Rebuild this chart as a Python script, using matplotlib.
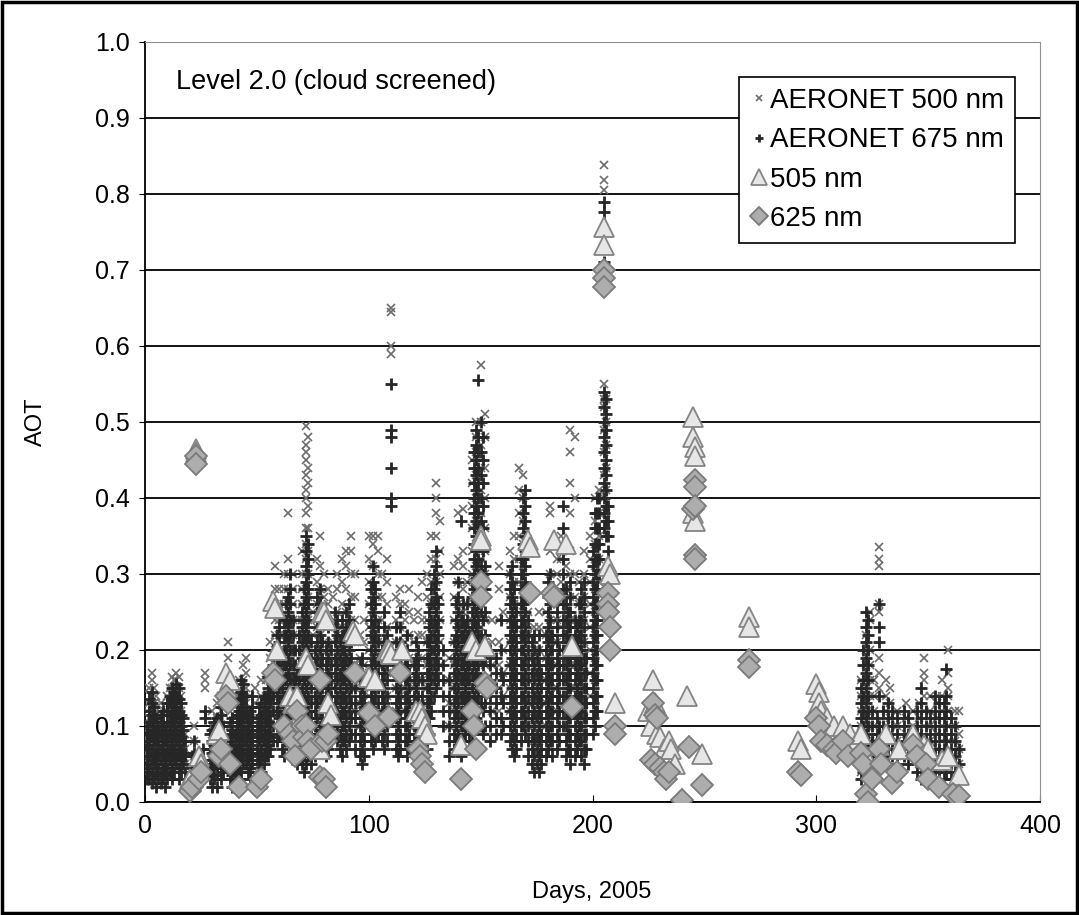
import matplotlib
matplotlib.use("Agg")
import matplotlib.pyplot as plt
from matplotlib.patches import Rectangle

plt.rcParams['font.family'] = ['Liberation Sans', 'DejaVu Sans']

# AERONET 500 nm, day -> AOT x 100
aer500 = {
    1: [4, 6, 8, 10, 12], 2: [5, 7, 9, 11, 13, 15], 3: [6, 8, 10, 12, 14, 16, 17],
    4: [5, 7, 9, 11, 13, 15], 5: [4, 6, 8, 10, 12, 14], 7: [5, 7, 9, 11, 13],
    9: [4, 6, 8, 10, 12], 10: [6, 8, 10, 12, 14], 11: [5, 7, 9, 11, 13, 15],
    12: [7, 9, 11, 13, 15, 16.5], 13: [6, 8, 10, 12, 14, 16], 14: [8, 10, 12, 14, 16, 17],
    15: [7, 9, 11, 13, 15, 16.5], 16: [6, 8, 10, 12, 14], 18: [5, 7, 9], 22: [4, 6, 8, 10],
    27: [15, 16, 17], 30: [4, 6, 8, 10, 12], 32: [5, 7, 9, 11, 13], 34: [6, 8, 10, 12, 14],
    37: [19, 21], 38: [6, 8, 10, 12, 14], 40: [5, 7, 9, 11], 42: [6, 8, 10, 12, 14, 16],
    44: [8, 10, 12, 14, 16, 18], 45: [7, 9, 11, 13, 15, 17, 19], 47: [6, 8, 10, 12, 14],
    49: [7, 9, 11, 13, 15], 52: [6, 8, 10, 12, 14, 16], 54: [8, 10, 12, 14, 16],
    56: [9, 11, 13, 15, 17, 19, 21], 58: [12, 14, 16, 18, 20, 22, 24, 26, 28, 31],
    60: [12, 14, 16, 18, 20, 22, 24, 26, 28], 62: [14, 16, 18, 20, 22, 24, 26, 28, 30],
    64: [16, 18, 20, 22, 24, 26, 28, 30, 32, 38], 66: [12, 14, 16, 18, 20, 22, 24, 26, 28, 30],
    68: [10, 12, 14, 16, 18, 20, 22, 24], 70: [12, 14, 16, 18, 20, 22, 24, 26, 28, 30, 33],
    72: [20, 22, 24, 26, 28, 30, 32, 34, 36, 38, 40, 41, 43, 45, 46, 47, 49.5],
    73: [18, 21, 24, 27, 30, 33, 36, 39, 42, 44, 48], 75: [10, 13, 16, 19, 22, 25],
    77: [14, 17, 20, 23, 26, 29, 32], 78: [16, 19, 22, 25, 28, 31, 35],
    80: [12, 15, 18, 21, 24, 27, 30], 82: [14, 17, 20, 23, 26, 28], 84: [12, 15, 18, 21, 24, 27],
    86: [16, 19, 22, 25, 28, 30], 88: [14, 17, 20, 23, 26, 29, 32], 90: [16, 19, 22, 25, 28, 31, 33],
    92: [15, 18, 21, 24, 27, 30, 33, 35], 94: [12, 15, 18, 21, 24, 27, 30], 96: [10, 13, 16, 19, 22],
    98: [12, 15, 18, 21, 24], 100: [14, 17, 20, 23, 26, 29, 32, 35],
    102: [16, 19, 22, 25, 28, 31, 34, 35], 104: [15, 18, 21, 24, 27, 30, 33, 35],
    106: [12, 15, 18, 21, 24, 27, 30], 108: [14, 17, 20, 23, 26, 29, 32], 110: [59, 60, 64.5, 65],
    112: [12, 15, 18, 21, 24, 27], 114: [14, 17, 20, 23, 26, 28], 116: [12, 15, 18, 21, 24, 26],
    118: [10, 13, 16, 19, 22, 25, 28], 120: [12, 15, 18, 21, 24], 122: [13, 16, 19, 22, 25, 27],
    124: [10, 13, 16, 19, 22, 24, 29], 126: [12, 15, 18, 21, 24, 27, 30],
    128: [17, 20, 23, 26, 29, 32, 35], 130: [20, 23, 26, 29, 32, 35, 38, 40, 42],
    132: [18, 21, 24, 27, 30, 33, 37], 136: [10, 13, 16, 19], 138: [12, 15, 18, 21, 24, 27, 31],
    140: [14, 17, 20, 23, 26, 29, 32, 38], 142: [16, 19, 22, 25, 28, 31, 33, 38.5],
    144: [14, 17, 20, 23, 26, 29], 146: [18, 21, 24, 27, 30, 33, 36, 39, 42, 45],
    148: [22, 25, 28, 31, 34, 37, 40, 43, 46, 48, 50],
    150: [20, 23, 26, 29, 32, 35, 38, 41, 44, 47, 50, 57.5],
    152: [15, 18, 21, 24, 27, 30, 33, 36, 40, 44, 48, 51], 155: [12, 15, 18, 21, 24],
    158: [12, 15, 18, 21, 24, 28, 31], 160: [14, 17, 20, 25], 163: [12, 15, 18, 21, 24, 27, 30, 33],
    165: [14, 17, 20, 23, 26, 29, 32, 35], 167: [20, 23, 26, 29, 32, 35, 38, 41, 44],
    169: [22, 25, 28, 31, 34, 37, 40, 43], 171: [10, 13, 16, 19, 22, 25, 28],
    174: [8, 11, 14, 17, 20, 23], 176: [8, 11, 14, 17, 20, 23, 25], 179: [10, 13, 16, 19, 22, 25],
    181: [12, 15, 18, 21, 24, 27, 30, 33, 38, 39], 184: [12, 15, 18, 21, 24, 27, 30, 32],
    186: [14, 17, 20, 23, 26, 29, 32, 35], 188: [10, 13, 16, 19, 22, 25, 28, 31],
    190: [12, 15, 18, 21, 24, 27, 30, 33, 38, 42, 46, 49], 192: [12, 15, 18, 21, 24, 27, 30, 40, 48],
    194: [14, 17, 20, 23, 26, 29], 196: [12, 15, 18, 21, 24, 27, 30, 33],
    199: [14, 17, 20, 23, 26, 29, 32, 35], 201: [16, 19, 22, 25, 28, 31, 34, 37, 40],
    203: [20, 23, 26, 29, 32, 35, 38, 41], 205: [40, 43, 46, 49, 52, 53, 55, 80.5, 81.8, 83.8],
    206: [38, 41, 44, 47, 50, 53],
    320: [4, 6, 8, 10, 12, 14, 16], 322: [6, 8, 10, 12, 14, 16, 18, 20, 22],
    324: [8, 10, 12, 14, 16, 18, 20, 24, 25], 326: [6, 8, 10, 12, 14, 16],
    328: [15, 17, 19, 25, 26, 31, 32, 33.5], 331: [8, 10, 12, 14, 16], 333: [7, 9, 11, 13, 15],
    336: [6, 8, 10, 12], 340: [7, 9, 11, 13], 343: [6, 8, 10, 12], 346: [5, 7, 9, 11, 13],
    348: [8, 10, 12, 14, 16, 17, 19], 351: [6, 8, 10, 12, 14], 354: [7, 9, 11, 13, 14],
    356: [6, 8, 10, 12, 14, 16], 359: [8, 10, 12, 14, 15, 17, 20], 362: [6, 8, 10, 12],
    364: [5, 7, 9, 12],
}

# AERONET 675 nm, day -> AOT x 100
aer675 = {
    1: [3, 4, 5, 6, 7, 8, 9, 10], 2: [3, 4.5, 6, 7.5, 9, 10.5, 12, 13.5],
    3: [2.5, 4, 5.5, 7, 8.5, 10, 11.5, 13, 14.5], 4: [3, 5, 6.5, 8, 9.5, 11, 12.5],
    5: [2, 3.5, 5, 6.5, 8, 9.5, 11], 6: [3, 4.5, 6, 7.5, 9, 10], 7: [2.5, 4, 5.5, 7, 8.5, 10, 11.5],
    8: [3, 4.5, 6, 7.5, 9, 10.5, 12], 9: [2, 3.5, 5, 6.5, 8, 9.5],
    10: [3, 4.5, 6, 7.5, 9, 10.5, 12, 13], 11: [4, 5.5, 7, 8.5, 10, 11.5, 13, 14],
    12: [3, 4.5, 6, 7.5, 9, 10.5, 12, 13.5, 15], 13: [4, 5.5, 7, 8.5, 10, 11.5, 13, 14.5],
    14: [5, 6.5, 8, 9.5, 11, 12.5, 14, 15.5], 15: [3, 4.5, 6, 7.5, 9, 10.5, 12, 13.5, 15],
    16: [4, 5.5, 7, 8.5, 10, 11.5, 13], 17: [5, 6.5, 8, 9.5, 11], 18: [4, 6, 8],
    21: [3, 4.5, 6], 22: [3.5, 5, 6.5, 8], 26: [4, 5.5, 7], 27: [11, 12], 29: [3, 5, 7, 9],
    30: [2, 3.5, 5, 6.5, 8, 9.5], 31: [3, 4.5, 6, 7.5, 9, 10.5], 32: [2, 3.5, 5, 6.5, 8, 9.5, 11],
    34: [3, 4.5, 6, 7.5, 9, 10, 11.5, 12.5], 35: [4, 5.5, 7, 8.5, 10],
    38: [3, 4.5, 6, 7.5, 9, 10.5], 39: [2, 3.5, 5, 6.5, 8, 9.5, 11], 40: [3, 4.5, 6, 7.5, 9],
    41: [4, 5.5, 7, 8.5, 10, 11.5, 13], 42: [3, 4.5, 6, 7.5, 9, 10.5, 12, 13.5],
    43: [4, 5.5, 7, 8.5, 10, 11.5, 13, 14.5, 16], 44: [5, 6.5, 8, 9.5, 11, 12.5, 14, 15.5],
    45: [5, 6.5, 8, 9.5, 11, 12.5, 14], 46: [4, 5.5, 7, 8.5, 10, 11.5],
    47: [3, 4.5, 6, 7.5, 9, 10.5, 12], 48: [5, 6.5, 8, 9.5, 11, 12.5, 14],
    50: [4, 5.5, 7, 8.5, 10], 51: [5, 6.5, 8, 9.5, 11, 12.5], 52: [4, 5.5, 7, 8.5, 10, 11.5, 13],
    53: [5, 6.5, 8, 9.5, 11, 12.5, 14], 54: [6, 7.5, 9, 10.5, 12, 13.5],
    55: [6, 7.5, 9, 10.5, 12, 13.5, 15, 16.5], 56: [7, 8.5, 10, 11.5, 13, 14.5, 16],
    57: [8, 10, 12, 14, 16, 18, 20], 59: [8, 10, 12, 14, 16, 18, 20, 22],
    60: [9, 11, 13, 15, 17, 19, 21, 23], 61: [7, 9, 11, 13, 15, 17, 19],
    62: [6, 8, 10, 12, 14, 16, 18, 20, 22, 24], 63: [8, 10, 12, 14, 16, 18, 20, 22, 24, 26],
    64: [9, 11, 13, 15, 17, 19, 21, 23, 25, 27], 65: [10, 12, 14, 16, 18, 20, 22, 24, 26, 28, 30],
    66: [8, 10, 12, 14, 16, 18, 20, 22, 24], 67: [6, 8, 10, 12, 14, 16, 18, 20],
    68: [5, 7, 9, 11, 13, 15, 17], 69: [6, 8, 10, 12, 14, 16, 18, 20, 22],
    70: [5, 7, 9, 11, 13, 15, 17, 19, 21, 23, 25], 71: [4, 6, 8, 10, 12, 14, 16, 18, 20, 22, 24, 26, 28],
    72: [5, 7, 9, 11, 13, 15, 17, 19, 21, 23, 25, 27, 29, 31, 33, 35],
    73: [6, 8, 10, 12, 14, 16, 18, 20, 22, 24, 26, 28, 30, 32, 34],
    74: [5, 7, 9, 11, 13, 15, 17, 19, 21], 76: [6, 8, 10, 12, 14, 16, 18, 20],
    77: [7, 9, 11, 13, 15, 17, 19, 21, 23, 25, 27], 78: [8, 10, 12, 14, 16, 18, 20, 22, 24, 26, 28],
    79: [7, 9, 11, 13, 15, 17, 19, 21], 81: [6, 8, 10, 12, 14, 16, 18, 20],
    82: [7, 9, 11, 13, 15, 17, 19, 21, 23], 83: [8, 10, 12, 14, 16, 18, 20],
    85: [9, 11, 13, 15, 17, 19, 21, 23, 25], 86: [8, 10, 12, 14, 16, 18, 20, 22, 24],
    87: [7, 9, 11, 13, 15, 17, 19, 21], 88: [6, 8, 10, 12, 14, 16, 18, 20, 22, 24],
    89: [8, 10, 12, 14, 16, 18, 20, 22], 90: [7, 9, 11, 13, 15, 17, 19, 21, 23, 25],
    91: [8, 10, 12, 14, 16, 18, 20, 22, 24, 26], 92: [9, 11, 13, 15, 17, 19, 21],
    94: [7, 9, 11, 13, 15], 96: [6, 8, 10, 12, 14, 16, 18], 97: [5, 7, 9, 11, 13, 15, 17, 19],
    98: [6, 8, 10, 12, 14], 101: [8, 10, 12, 14, 16, 18, 20, 22, 24, 26, 28],
    102: [7, 9, 11, 13, 15, 17, 19, 21, 23, 25, 27, 29, 31],
    103: [8, 10, 12, 14, 16, 18, 20, 22, 24, 26, 28], 104: [9, 11, 13, 15, 17, 19, 21, 23],
    106: [8, 10, 12, 14, 16, 18, 20], 107: [7, 9, 11, 13, 15, 17, 19, 21, 23, 25],
    108: [8, 10, 12, 14, 16, 18, 20, 22], 110: [39, 40, 44, 48, 49, 55],
    112: [7, 9, 11, 13, 15, 17, 19, 21, 23], 113: [6, 8, 10, 12, 14, 16, 18, 20],
    114: [7, 9, 11, 13, 15, 17, 19, 21, 23, 25], 116: [8, 10, 12, 14, 16, 18],
    117: [6, 8, 10, 12, 14, 16, 18, 20, 22], 118: [7, 9, 11, 13, 15, 17],
    120: [6, 8, 10, 12, 14, 16, 18], 121: [7, 9, 11, 13, 15, 17, 19, 21],
    122: [8, 10, 12, 14, 16, 18, 20], 124: [6, 8, 10, 12, 14, 16],
    126: [7, 9, 11, 13, 15, 17, 19, 21], 127: [9, 11, 13, 15, 17, 19, 21, 23, 25],
    128: [12, 14, 16, 18, 20, 22, 24, 26, 28], 129: [14, 16, 18, 20, 22, 24, 26, 28, 30],
    130: [15, 17, 19, 21, 23, 25, 27, 29, 31, 33], 131: [16, 18, 20, 22, 24, 26],
    133: [10, 12, 14, 16, 18, 20], 136: [6, 8, 10, 12, 14, 16],
    138: [7, 9, 11, 13, 15, 17, 19, 21], 139: [8, 10, 12, 14, 16, 18, 20, 22, 24, 26],
    140: [7, 9, 11, 13, 15, 17, 19, 21, 23, 25, 27, 29],
    141: [6, 8, 10, 12, 14, 16, 18, 20, 22, 24, 37], 142: [8, 10, 12, 14, 16, 18, 20, 22, 24, 26],
    143: [9, 11, 13, 15, 17, 19, 21, 23], 144: [10, 12, 14, 16, 18, 20, 22, 24, 26],
    145: [8, 10, 12, 14, 16, 18, 20, 22], 146: [9, 11, 13, 15, 17, 19, 21, 23, 25, 27, 29],
    147: [10, 12, 14, 16, 18, 20, 22, 24, 26, 28, 30, 32, 34, 36, 38, 40, 42, 44, 46],
    148: [11, 13, 15, 17, 19, 21, 23, 25, 27, 29, 31, 33, 35, 37, 39, 41, 43, 45, 47, 49],
    149: [12, 14, 16, 18, 20, 22, 24, 26, 28, 30, 32, 34, 36, 38, 40, 42, 44, 46, 48, 55.5],
    150: [10, 13, 16, 19, 22, 25, 28, 31, 34, 37, 40, 43, 46, 50],
    151: [9, 12, 15, 18, 21, 24, 27, 30, 33, 36, 39, 42, 45, 48],
    152: [10, 13, 16, 19, 22, 25, 28, 31], 154: [8, 10, 12, 14, 16, 18, 20],
    157: [9, 11, 13, 15, 17, 19], 159: [9, 11, 14, 17, 20, 24], 160: [10, 13, 16],
    163: [8, 10, 12, 14, 16, 18, 20, 22, 24, 26, 28, 30],
    164: [7, 9, 11, 13, 15, 17, 19, 21, 23, 25, 27, 29, 31],
    165: [6, 8, 10, 12, 14, 16, 18, 20, 22, 24, 26, 28],
    166: [7, 9, 11, 13, 15, 17, 19, 21, 23, 25],
    168: [8, 10, 12, 14, 16, 18, 20, 22, 24, 26, 28, 30, 32],
    169: [10, 12, 14, 16, 18, 20, 22, 24, 26, 28, 30, 32, 34, 36, 38, 40],
    170: [9, 11, 13, 15, 17, 19, 21, 23, 25, 27, 29, 31, 33, 35, 37, 39, 41],
    171: [6, 8, 10, 12, 14, 16, 18, 20, 22, 24], 173: [5, 7, 9, 11, 13, 15, 17, 19, 21],
    174: [4, 6, 8, 10, 12, 14, 16, 18, 20, 22], 175: [5, 7, 9, 11, 13, 15, 17, 19],
    176: [4, 6, 8, 10, 12, 14, 16, 18, 20, 22], 177: [5, 7, 9, 11, 13, 15, 17],
    179: [6, 8, 10, 12, 14, 16, 18, 20, 22], 180: [7, 9, 11, 13, 15, 17, 19, 21, 23, 25, 27, 29],
    181: [8, 10, 12, 14, 16, 18, 20, 22, 24, 26, 28, 30], 182: [6, 8, 10, 12, 14, 16, 18, 20, 22],
    184: [7, 9, 11, 13, 15, 17, 19, 21, 23, 25, 27], 185: [8, 10, 12, 14, 16, 18, 20],
    187: [10, 12, 14, 16, 18, 20, 22, 24, 26, 28, 30, 32, 34, 36, 39],
    188: [6, 8, 10, 12, 14, 16, 18, 20, 22, 24, 26, 28], 189: [7, 9, 11, 13, 15, 17, 19, 21, 23, 25],
    190: [5, 7, 9, 11, 13, 15, 17, 19, 21, 23, 25, 27, 29],
    192: [6, 8, 10, 12, 14, 16, 18, 20, 22, 24], 193: [7, 9, 11, 13, 15, 17, 19, 21, 23],
    194: [8, 10, 12, 14, 16, 18, 20, 22, 24, 26], 195: [6, 8, 10, 12, 14, 16, 18, 20, 22, 24, 26, 28],
    196: [5, 7, 9, 11, 13, 15, 17, 19, 21, 23, 25, 27, 29], 197: [7, 9, 11, 13, 15, 17, 19],
    200: [9, 11, 13, 15, 17, 19, 21, 23, 25, 27, 29, 31, 33],
    201: [10, 12, 14, 16, 18, 20, 22, 24, 26, 28, 30, 32, 34, 36, 38],
    202: [12, 14, 16, 18, 20, 22, 24, 26, 28, 30, 32, 34, 36, 38, 40],
    203: [30, 32, 34, 36, 38, 40],
    205: [36, 38, 40, 42, 44, 46, 48, 50, 52, 54, 71, 77.6, 79],
    206: [35, 37, 39, 41, 43, 45, 47, 49, 51, 53], 207: [33, 35, 37, 39],
    320: [3, 5, 7, 9, 11, 13, 15], 321: [4, 6, 8, 10, 12, 14, 16, 18, 20],
    322: [5, 7, 9, 11, 13, 15, 17, 19, 21, 23, 25], 323: [6, 8, 10, 12, 14, 16, 18, 20, 22, 24],
    325: [4, 6, 8, 10, 12], 327: [5, 7, 9, 11], 328: [9, 10, 14, 21, 23, 26],
    330: [6, 8, 10, 12], 332: [5, 7, 9, 11, 13], 334: [6, 8, 10, 12], 336: [5, 7, 9, 11],
    339: [6, 8, 10, 12], 341: [5, 7, 9, 11], 345: [4, 6, 8, 10, 12],
    347: [3, 5, 7, 9, 11, 13, 15], 349: [4, 6, 8, 10, 12], 351: [5, 7, 9, 11],
    353: [4, 6, 8, 10, 12, 14], 355: [3, 5, 7, 9, 11, 13], 357: [3, 5, 7, 9, 11, 13],
    358: [4, 6, 8, 10, 12, 14, 17.5], 360: [3, 5, 7, 9, 11], 362: [4, 6, 8, 10], 364: [3, 5, 7],
}

# 505 nm retrievals
tri_day = [20, 23, 23, 24, 25, 32, 33, 36, 38, 50, 57, 58, 59, 65, 66, 67, 68, 72, 73, 78,
           79, 80, 81, 82, 83, 93, 94, 100, 103, 108, 109, 110, 115, 121, 123, 124, 125, 126,
           141, 146, 148, 150, 150, 152, 171, 172, 183, 188, 191, 205, 205, 207, 208, 210,
           225, 226, 227, 228, 229, 230, 232, 234, 235, 237, 242, 245, 245, 246, 246, 245, 246,
           249, 270, 270, 292, 293, 300, 301, 301, 302, 305, 308, 312, 315, 318, 320, 322,
           328, 331, 337, 343, 348, 350, 356, 359, 364]
tri_aot = [0.03, 0.465, 0.46, 0.06, 0.05, 0.09, 0.095, 0.17, 0.16, 0.03, 0.265, 0.255, 0.2,
           0.14, 0.13, 0.1, 0.14, 0.19, 0.18, 0.07, 0.25, 0.25, 0.24, 0.13, 0.115, 0.225,
           0.22, 0.165, 0.16, 0.2, 0.2, 0.195, 0.2, 0.12, 0.12, 0.11, 0.1, 0.09, 0.075, 0.21,
           0.2, 0.35, 0.345, 0.205, 0.345, 0.335, 0.345, 0.34, 0.205, 0.757, 0.733, 0.31,
           0.3, 0.13, 0.12, 0.1, 0.16, 0.13, 0.09, 0.085, 0.07, 0.08, 0.07, 0.05, 0.14, 0.507,
           0.48, 0.467, 0.455, 0.38, 0.37, 0.063, 0.243, 0.23, 0.08, 0.07, 0.155, 0.145, 0.13,
           0.12, 0.11, 0.1, 0.1, 0.09, 0.08, 0.09, 0.06, 0.075, 0.09, 0.07, 0.09, 0.075, 0.07,
           0.055, 0.06, 0.035]

# 625 nm retrievals
dia_day = [20, 21, 23, 23, 24, 25, 33, 34, 36, 37, 38, 42, 50, 52, 57, 58, 62, 65, 66, 67,
           68, 70, 71, 72, 73, 74, 78, 78, 79, 80, 81, 81, 82, 94, 100, 103, 109, 114, 122,
           123, 124, 125, 141, 146, 147, 148, 150, 150, 152, 153, 172, 182, 183, 191, 205,
           205, 205, 207, 207, 207, 208, 208, 210, 210, 226, 227, 228, 228, 229, 230, 232,
           233, 234, 240, 243, 245, 246, 246, 246, 246, 246, 249, 270, 270, 292, 293, 300,
           301, 302, 305, 308, 309, 312, 314, 320, 321, 322, 323, 325, 328, 329, 334, 336,
           343, 345, 349, 350, 355, 361, 364]
dia_aot = [0.015, 0.02, 0.455, 0.445, 0.03, 0.04, 0.06, 0.07, 0.14, 0.13, 0.05, 0.02, 0.02,
           0.03, 0.17, 0.16, 0.1, 0.09, 0.08, 0.06, 0.12, 0.1, 0.085, 0.1, 0.08, 0.07, 0.16,
           0.033, 0.08, 0.03, 0.02, 0.08, 0.09, 0.17, 0.117, 0.1, 0.112, 0.17, 0.07, 0.06,
           0.05, 0.04, 0.03, 0.12, 0.1, 0.07, 0.29, 0.27, 0.157, 0.15, 0.275, 0.275, 0.27,
           0.125, 0.7, 0.69, 0.678, 0.275, 0.26, 0.25, 0.23, 0.2, 0.1, 0.09, 0.055, 0.13,
           0.115, 0.05, 0.11, 0.045, 0.04, 0.03, 0.04, 0.003, 0.073, 0.385, 0.424, 0.415,
           0.39, 0.325, 0.32, 0.022, 0.187, 0.178, 0.04, 0.035, 0.11, 0.1, 0.08, 0.075, 0.07,
           0.065, 0.08, 0.06, 0.065, 0.05, 0.01, 0.0, 0.03, 0.07, 0.05, 0.025, 0.04, 0.075,
           0.06, 0.05, 0.03, 0.02, 0.01, 0.008]

x500, y500 = [], []
for d, vals in aer500.items():
    for v in vals:
        x500.append(d)
        y500.append(v / 100)
x675, y675 = [], []
for d, vals in aer675.items():
    for v in vals:
        x675.append(d)
        y675.append(v / 100)

fig = plt.figure(figsize=(10.79, 9.15), dpi=100, facecolor='white')
ax = fig.add_axes([0.1344, 0.1235, 0.8295, 0.8306])

ax.set_xlim(0, 400)
ax.set_ylim(0, 1.0)
ax.set_yticks([i / 10 for i in range(11)])
ax.set_xticks([0, 100, 200, 300, 400])
ax.yaxis.set_major_formatter(plt.FormatStrFormatter('%.1f'))
ax.grid(axis='y', color='black', linewidth=1.3, zorder=0)
ax.set_axisbelow(True)
for s in ['top', 'right']:
    ax.spines[s].set_color('#909090')
for s in ['left', 'bottom']:
    ax.spines[s].set_color('black')
    ax.spines[s].set_linewidth(1.3)
ax.tick_params(axis='x', direction='in', length=5, labelsize=18, pad=9)
ax.tick_params(axis='y', direction='out', length=4, labelsize=18, pad=7)

ax.plot(x500, y500, linestyle='none', marker='x', markersize=6, markeredgewidth=1.2,
        color='#6c6c6c', label='AERONET 500 nm', zorder=3)
ax.plot(x675, y675, linestyle='none', marker='+', markersize=8, markeredgewidth=2.0,
        color='#262626', label='AERONET 675 nm', zorder=4)
ax.plot(tri_day, tri_aot, linestyle='none', marker='^', markersize=14, markeredgewidth=1.3,
        markerfacecolor='#e6e6e6', markeredgecolor='#858585', label='505 nm', zorder=5)
ax.plot(dia_day, dia_aot, linestyle='none', marker='D', markersize=11, markeredgewidth=1.3,
        markerfacecolor='#adadad', markeredgecolor='#7a7a7a', label='625 nm', zorder=6)

ax.set_xlabel('Days, 2005', fontsize=17)
ax.set_ylabel('AOT', fontsize=17)
ax.xaxis.set_label_coords(0.4995, -0.104)
ax.yaxis.set_label_coords(-0.11, 0.5)
ax.text(0.035, 0.965, 'Level 2.0 (cloud screened)', transform=ax.transAxes, fontsize=19.5,
        va='top', ha='left')

leg = ax.legend(loc='upper right', bbox_to_anchor=(0.972, 0.954), fontsize=20, frameon=True,
                fancybox=False, edgecolor='black', framealpha=1, handletextpad=0.1,
                handlelength=0.6, borderpad=0.4, labelspacing=0.48, borderaxespad=0,
                markerscale=0.8)
leg.get_frame().set_linewidth(1.2)

fig.patches.append(Rectangle((0.002, 0.002), 0.996, 0.996, transform=fig.transFigure,
                             fill=False, edgecolor='black', linewidth=2.5))

fig.savefig('out.png', dpi=100)
